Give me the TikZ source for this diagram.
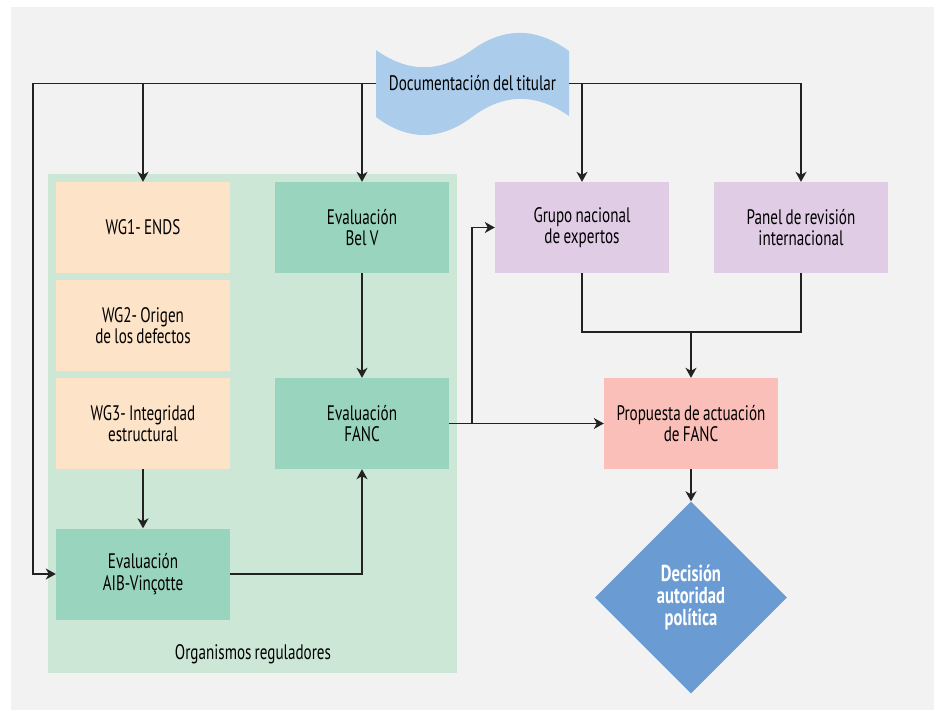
\documentclass[tikz,border=0pt]{standalone}
\usepackage{fontspec}
\setmainfont{PT Sans}[FakeStretch=0.72,WordSpace=0.8]
\usetikzlibrary{shapes.geometric,arrows.meta,calc}
\definecolor{bggray}{HTML}{F2F2F2}
\definecolor{regbg}{HTML}{CDE7D6}
\definecolor{peach}{HTML}{FDE3C8}
\definecolor{teal}{HTML}{99D4BE}
\definecolor{lav}{HTML}{E0CCE5}
\definecolor{pinkc}{HTML}{F9BFB8}
\definecolor{docblue}{HTML}{ABCDEB}
\definecolor{diamblue}{HTML}{6A9BD2}
\definecolor{linec}{HTML}{222222}
\begin{document}
\begin{tikzpicture}[x=1pt,y=-1pt,
  font=\fontsize{21}{21.7}\selectfont,
  box/.style={rectangle,minimum width=174pt,minimum height=91pt,inner sep=0pt,align=center},
  wgbox/.style={box,fill=peach},
  evbox/.style={box,fill=teal},
  lvbox/.style={box,fill=lav},
  pkbox/.style={box,fill=pinkc},
  conn/.style={draw=linec,line width=1.2pt},
  arr/.style={conn,-{Stealth[length=10pt,width=11pt,inset=3pt]}}
]
\useasboundingbox (0,0) rectangle (939,710);
\fill[bggray] (11,7) rectangle (934,710);
\fill[regbg] (48,174) rectangle (457,673);
\node (org) at (253,654) {Organismos reguladores};

% document shape
\fill[docblue] (376,50) .. controls (408,73) and (440,73) .. (472,50)
  .. controls (504,27) and (536,27) .. (569,51) -- (569,116)
  .. controls (536,93) and (504,93) .. (472,117)
  .. controls (440,141) and (408,141) .. (376,117) -- cycle;
\node[minimum width=193pt,minimum height=60pt,inner sep=0pt] (doc) at (472.5,83.5) {Documentación del titular};

\node[wgbox] (wg1) at (143,227.5) {WG1- ENDS};
\node[wgbox] (wg2) at (143,325.5) {WG2- Origen\\de los defectos};
\node[wgbox] (wg3) at (143,423.5) {WG3- Integridad\\estructural};
\node[evbox] (aib) at (143,574) {Evaluación\\AIB-Vinçotte};
\node[evbox] (belv) at (362,227.5) {Evaluación\\Bel V};
\node[evbox] (fanc) at (362,423.5) {Evaluación\\FANC};
\node[lvbox] (grupo) at (582,227.5) {Grupo nacional\\de expertos};
\node[lvbox] (panel) at (801,227.5) {Panel de revisión\\internacional};
\node[pkbox] (prop) at (691,423.5) {Propuesta de actuación\\de FANC};
\node[diamond,aspect=1,minimum size=192pt,inner sep=0pt,fill=diamblue,text=white,align=center,font=\fontsize{23}{21.7}\selectfont\bfseries] (dec) at (691,597.5) {Decisión\\autoridad\\política};

\coordinate (lft) at (33,83.5);
\coordinate (join) at (691,332);
\coordinate (br) at (472,423.5);

\draw[arr] (doc.west) -| (wg1.north);
\draw[arr] (doc.west) -| (belv.north);
\draw[arr] (doc.west) -- (lft) |- (aib.west);
\draw[arr] (doc.east) -| (grupo.north);
\draw[arr] (doc.east) -| (panel.north);
\draw[conn] (grupo.south) |- (join) -| (panel.south);
\draw[arr] (join) -- (prop.north);
\draw[arr] (belv.south) -- (fanc.north);
\draw[arr] (wg3.south) -- (aib.north);
\draw[arr] (aib.east) -| (fanc.south);
\draw[arr] (fanc.east) -- (prop.west);
\draw[arr] (br) |- (grupo.west);
\draw[arr] (prop.south) -- (dec.north);
\end{tikzpicture}
\end{document}
